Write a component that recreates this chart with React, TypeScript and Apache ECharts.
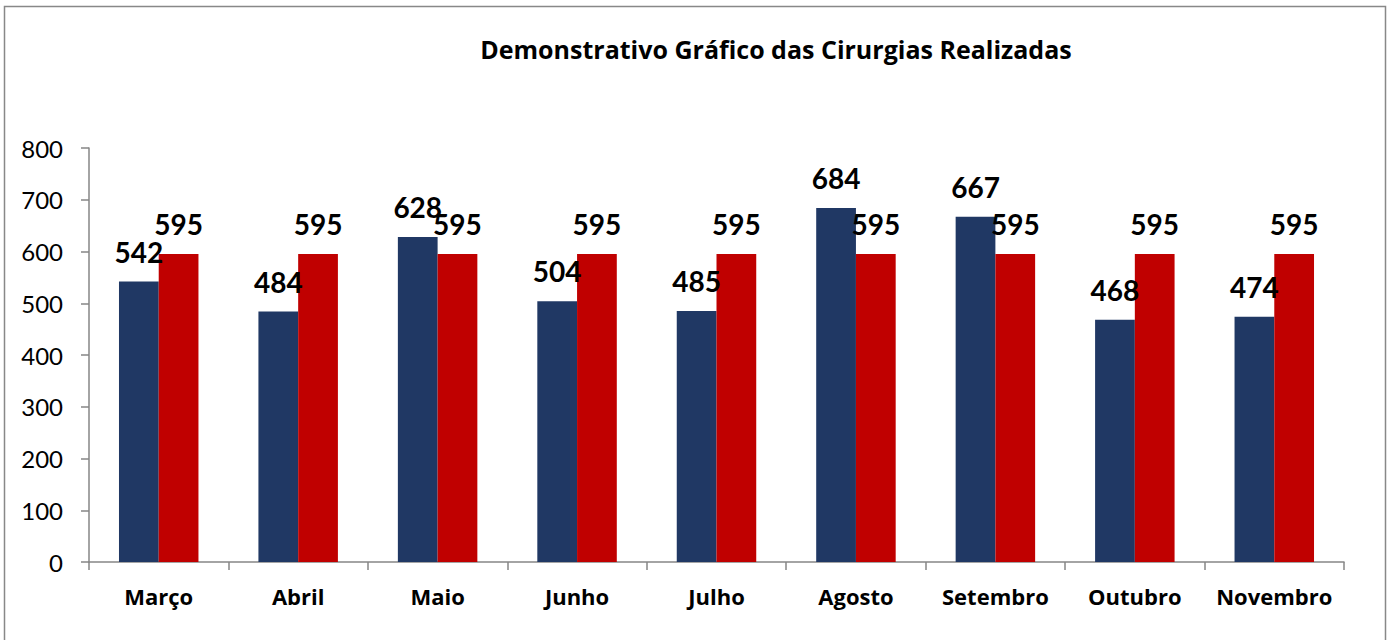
import React, { useEffect, useRef } from "react";
import * as echarts from "echarts";

const categories = ["Março", "Abril", "Maio", "Junho", "Julho", "Agosto", "Setembro", "Outubro", "Novembro"];
const realizadas = [542, 484, 628, 504, 485, 684, 667, 468, 474];
const meta = [595, 595, 595, 595, 595, 595, 595, 595, 595];
const titleText = "Demonstrativo Gráfico das Cirurgias Realizadas";

export default function App() {
  const ref = useRef<HTMLDivElement>(null);
  useEffect(() => {
    document.body.style.margin = "0";
    if (!ref.current) return;
    const chart = echarts.init(ref.current, null, { renderer: "svg" });
    const font = "Lato, 'Open Sans', sans-serif";
    const wide = "'Open Sans', Lato, sans-serif";
    const labelStyle = {
      show: true,
      position: "top" as const,
      distance: 16,
      fontFamily: font,
      fontWeight: "bold" as const,
      fontSize: 28,
      color: "#000",
    };
    chart.setOption({
      animation: false,
      backgroundColor: "#fff",
      title: {
        text: titleText,
        left: 771,
        textAlign: "center",
        top: 31,
        textStyle: { fontFamily: wide, fontWeight: "bold", fontSize: 25, color: "#000" },
      },
      graphic: [
        {
          type: "rect",
          shape: { x: 4.5, y: 6.5, width: 1381, height: 700 },
          style: { fill: "none", stroke: "#888", lineWidth: 1.5 },
          silent: true,
        },
      ],
      grid: { left: 89, right: 46, top: 148, bottom: 78, containLabel: false },
      xAxis: {
        type: "category",
        data: categories,
        axisLine: { lineStyle: { color: "#868686", width: 1.5 } },
        axisTick: { show: true, length: 8, alignWithLabel: false, lineStyle: { color: "#868686", width: 1.5 } },
        axisLabel: { interval: 0, fontFamily: wide, fontWeight: "bold", fontSize: 22, color: "#000", margin: 23 },
      },
      yAxis: {
        type: "value",
        min: 0,
        max: 800,
        interval: 100,
        splitLine: { show: false },
        axisLine: { show: true, lineStyle: { color: "#868686", width: 1.5 } },
        axisTick: { show: true, length: 8, lineStyle: { color: "#868686", width: 1.5 } },
        axisLabel: { fontFamily: font, fontSize: 24, color: "#000", margin: 26 },
      },
      series: [
        {
          type: "bar",
          data: realizadas,
          barGap: "0%",
          barCategoryGap: "43%",
          itemStyle: { color: "#203864" },
          label: labelStyle,
        },
        {
          type: "bar",
          data: meta,
          barGap: "0%",
          barCategoryGap: "43%",
          itemStyle: { color: "#C00000" },
          label: labelStyle,
        },
      ],
    });
    return () => chart.dispose();
  }, []);
  return <div ref={ref} style={{ width: 1390, height: 640 }} />;
}
